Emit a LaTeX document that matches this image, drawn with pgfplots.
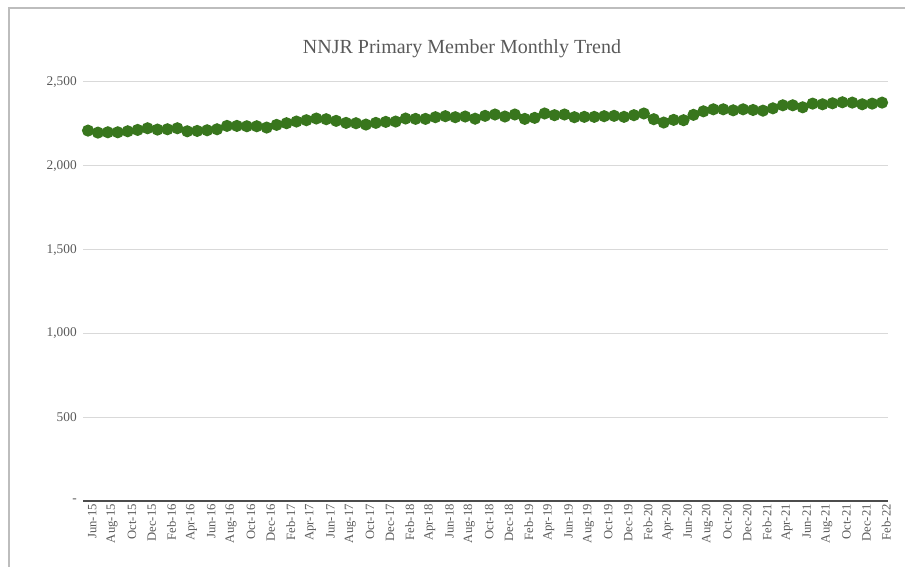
\documentclass[border=0pt]{standalone}
\usepackage{pgfplots}
\pgfplotsset{compat=1.18}
\usepackage{fontspec}
\setmainfont{Liberation Serif}
\definecolor{txt}{HTML}{595959}
\definecolor{dotc}{HTML}{38761D}
\definecolor{gridc}{HTML}{D9D9D9}
\definecolor{framec}{HTML}{BDBDBD}
\begin{document}
\begin{tikzpicture}[x=0.6pt,y=0.6pt]
\path[use as bounding box] (0,0) rectangle (905,567);
\draw[framec,line width=1.2pt] (9,0) -- (9,559) -- (905,559);
\node[txt,font=\fontsize{12}{14}\selectfont,anchor=base] at (462,513) {NNJR Primary Member Monthly Trend};
\begin{axis}[
  at={(52.8pt,39.6pt)}, anchor=origin,
  scale only axis, width=483pt, height=251.4pt,
  xmin=-0.5, xmax=80.6, ymin=0, ymax=2500,
  axis lines=left,
  x axis line style={draw=black!70, line width=1.1pt, -},
  y axis line style={draw=none, -},
  ymajorgrids, xmajorgrids=false, grid style={gridc, line width=0.6pt},
  ytick={0,500,1000,1500,2000,2500},
  yticklabels={-,500,{1,000},{1,500},{2,000},{2,500}},
  xtick={0,2,...,80},
  xticklabels={Jun-15,Aug-15,Oct-15,Dec-15,Feb-16,Apr-16,Jun-16,Aug-16,Oct-16,Dec-16,Feb-17,Apr-17,Jun-17,Aug-17,Oct-17,Dec-17,Feb-18,Apr-18,Jun-18,Aug-18,Oct-18,Dec-18,Feb-19,Apr-19,Jun-19,Aug-19,Oct-19,Dec-19,Feb-20,Apr-20,Jun-20,Aug-20,Oct-20,Dec-20,Feb-21,Apr-21,Jun-21,Aug-21,Oct-21,Dec-21,Feb-22},
  major tick length=0pt,
  x tick label style={rotate=90, anchor=east, font=\fontsize{7.6}{8}\selectfont, text=txt, inner sep=1pt, yshift=-2.5pt, xshift=-0.8pt},
  y tick label style={font=\fontsize{8}{9}\selectfont, text=txt, inner sep=0pt, xshift=-3.6pt},
  clip=false,
]
\addplot[dotc, line width=1.6pt, mark=*, mark size=2.8pt, mark options={fill=dotc, draw=dotc}] coordinates {
(0,2210)(1,2198)(2,2200)(3,2200)(4,2206)(5,2214)(6,2224)(7,2216)(8,2218)(9,2224)
(10,2206)(11,2208)(12,2212)(13,2218)(14,2238)(15,2238)(16,2236)(17,2236)(18,2228)(19,2244)
(20,2254)(21,2264)(22,2272)(23,2282)(24,2278)(25,2268)(26,2256)(27,2254)(28,2246)(29,2256)
(30,2262)(31,2264)(32,2282)(33,2280)(34,2280)(35,2290)(36,2296)(37,2290)(38,2294)(39,2281)
(40,2298)(41,2306)(42,2294)(43,2306)(44,2280)(45,2286)(46,2312)(47,2302)(48,2306)(49,2290)
(50,2292)(51,2292)(52,2296)(53,2298)(54,2292)(55,2302)(56,2312)(57,2278)(58,2258)(59,2274)
(60,2272)(61,2304)(62,2325)(63,2337)(64,2337)(65,2331)(66,2337)(67,2333)(68,2329)(69,2343)
(70,2361)(71,2361)(72,2349)(73,2371)(74,2367)(75,2373)(76,2379)(77,2377)(78,2367)(79,2371)
(80,2377)
};
\end{axis}
\end{tikzpicture}
\end{document}
